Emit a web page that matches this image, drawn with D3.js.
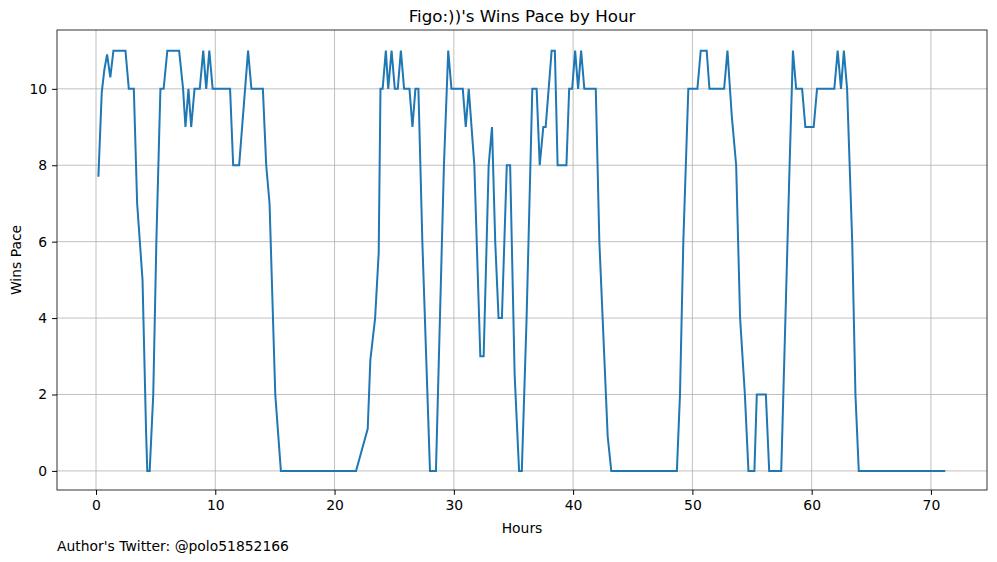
<!DOCTYPE html><html><head><meta charset="utf-8"><script src="https://cdn.jsdelivr.net/npm/d3@7"></script>
<style>body{margin:0;background:#fff}text{font-family:"DejaVu Sans",sans-serif}</style></head><body><svg id="c" width="997" height="562"></svg><script>
const hours=[0.2,0.48,0.7,0.93,1.2,1.46,2.47,2.75,3.17,3.45,3.9,4.2,4.3,4.5,4.8,5.06,5.4,5.67,5.98,6.97,7.3,7.5,7.75,7.98,8.26,8.7,8.99,9.24,9.5,9.78,11.24,11.5,12.0,12.75,13.03,13.99,14.27,14.55,15.03,15.5,
20.56,21.8,22.78,23.0,23.4,23.7,23.85,24.03,24.3,24.5,24.78,25.05,25.3,25.56,25.83,26.28,26.53,26.78,27.03,27.36,28.0,28.5,29.17,29.53,29.8,30.75,31.0,31.25,31.72,32.22,32.5,32.92,33.2,33.47,33.75,34.03,34.44,34.72,35.1,35.47,35.7,36.1,36.58,36.94,37.2,37.5,37.7,38.2,38.47,38.7,39.44,39.67,39.92,40.17,40.42,40.67,40.94,41.9,42.2,42.9,43.2,
48.7,48.96,49.24,49.66,50.42,50.7,51.2,51.43,52.66,52.94,53.3,53.67,54.0,54.4,54.7,55.2,55.4,56.16,56.44,57.45,57.8,58.15,58.43,58.7,59.2,59.47,60.17,60.45,61.9,62.18,62.46,62.7,62.97,63.4,63.67,63.95,71.2];
const pace=[7.7,9.9,10.5,10.9,10.3,11,11,10,10,7,5,1,0,0,2,6,10,10,11,11,10,9,10,9,10,10,11,10,11,10,10,8,8,11,10,10,8,7,2,0,
0,0,1.1,2.9,4,5.7,10,10,11,10,11,10,10,11,10,10,9,10,10,6,0,0,8,11,10,10,9,10,8,3,3,8,9,6,4,4,8,8,2.5,0,0,4,10,10,8,9,9,11,11,8,8,10,10,11,10,11,10,10,6,0.9,0,
0,2,6,10,10,11,11,10,10,11,9.3,8,4,2,0,0,2,2,0,0,4,8,11,10,10,9,9,10,10,11,10,11,10,6,2,0,0];
const xTicks=[0,10,20,30,40,50,60,70], yTicks=[0,2,4,6,8,10];
const svg=d3.select("#c"),L=57,R=987,T=30,B=490;
const x=d3.scaleLinear().domain([-3.27,74.7]).range([L,R]);
const y=d3.scaleLinear().domain([-0.5,11.54]).range([B,T]);
const g=svg.append("g");
xTicks.forEach(t=>g.append("line").attr("x1",x(t)).attr("x2",x(t)).attr("y1",T).attr("y2",B).attr("stroke","#b0b0b0").attr("stroke-width",0.8));
yTicks.forEach(t=>g.append("line").attr("x1",L).attr("x2",R).attr("y1",y(t)).attr("y2",y(t)).attr("stroke","#b0b0b0").attr("stroke-width",0.8));
svg.append("path").datum(hours.map((h,i)=>[h,pace[i]])).attr("fill","none").attr("stroke","#1f77b4").attr("stroke-width",2)
 .attr("d",d3.line().x(d=>x(d[0])).y(d=>y(d[1])));
svg.append("rect").attr("x",L).attr("y",T).attr("width",R-L).attr("height",B-T).attr("fill","none").attr("stroke","#000").attr("stroke-width",0.8);
const xa=svg.append("g").attr("transform",`translate(0,${B})`).call(d3.axisBottom(x).tickValues(xTicks).tickSize(4.9).tickPadding(4.9));
const ya=svg.append("g").attr("transform",`translate(${L},0)`).call(d3.axisLeft(y).tickValues(yTicks).tickSize(4.9).tickPadding(4.9));
[xa,ya].forEach(a=>{a.select(".domain").remove();a.selectAll("text").attr("font-size",13.9).attr("font-family","DejaVu Sans").attr("fill","#000");a.selectAll("line").attr("stroke","#000")});
svg.append("text").attr("x",(L+R)/2).attr("y",22).attr("text-anchor","middle").attr("font-size",16.7).text("Figo:))'s Wins Pace by Hour");
svg.append("text").attr("x",(L+R)/2).attr("y",533).attr("text-anchor","middle").attr("font-size",13.9).text("Hours");
svg.append("text").attr("transform",`translate(21,${(T+B)/2}) rotate(-90)`).attr("text-anchor","middle").attr("font-size",13.9).text("Wins Pace");
svg.append("text").attr("x",57).attr("y",551).attr("font-size",13.9).text("Author's Twitter: @polo51852166");
</script></body></html>
